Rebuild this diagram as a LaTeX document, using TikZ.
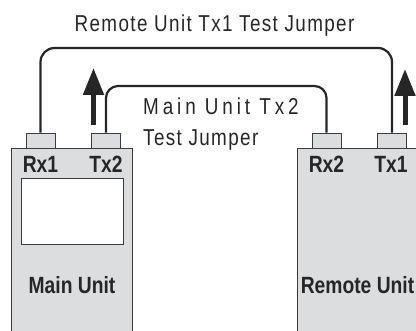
\documentclass[tikz,border=0pt]{standalone}
\usepackage{fontspec}
\setmainfont{Liberation Sans}[FakeStretch=0.82]
\newfontfamily\trackfont{Liberation Sans}[FakeStretch=0.82,LetterSpace=6]
\newfontfamily\widefont{Liberation Sans}[FakeStretch=0.82,LetterSpace=17]
\usetikzlibrary{arrows.meta}

\definecolor{unitgray}{HTML}{DCDDDF}
\definecolor{edgegray}{HTML}{3C3C3C}
\definecolor{inkgray}{HTML}{262626}

\tikzset{
    unitbox/.style={draw=edgegray, fill=unitgray, line width=0.9pt},
    screenbox/.style={draw=edgegray, fill=white, line width=0.9pt},
    portbox/.style={draw=edgegray, fill=unitgray, line width=0.9pt,
        minimum width=29pt, minimum height=15pt, inner sep=0pt},
    cable/.style={draw=inkgray, line width=2.2pt, rounded corners=14pt},
    bigarrow/.style={draw=inkgray, line width=5pt,
        -{Triangle[width=20pt,length=27pt]}},
    portlabel/.style={font=\fontsize{23.5}{26}\selectfont\bfseries,
        text=inkgray, inner sep=0pt, anchor=base},
    jumperlabel/.style={text=inkgray, inner sep=0pt, anchor=base west}
}

\begin{document}
\begin{tikzpicture}[x=1pt, y=-1pt]

        \useasboundingbox (0,0) rectangle (416,331);

        % the two units
        \draw[unitbox] (11,148) rectangle (132,345);
        \draw[screenbox] (21,178) rectangle (123,244);
        \draw[unitbox] (297,148) rectangle (416,345);

        % ports
        \node[portbox] (rxone) at (40.5,140.5) {};
        \node[portbox] (txtwo) at (106,140.5) {};
        \node[portbox] (rxtwo) at (326.5,140.5) {};
        \node[portbox] (txone) at (392,140.5) {};

        \node[portlabel] (rxonelab) at (40.5,173) {Rx1};
        \node[portlabel] (txtwolab) at (106,173) {Tx2};
        \node[portlabel] (rxtwolab) at (326.5,173) {Rx2};
        \node[portlabel] (txonelab) at (391,173) {Tx1};

        \node[portlabel] (mainlab) at (72,294) {Main Unit};
        \node[portlabel] (remotelab) at (357.5,294) {Remote Unit};

        % jumpers
        \coordinate (outertop) at (0,48);
        \coordinate (innertop) at (0,86);
        \draw[cable] (rxone.north) -- (rxone.north |- outertop) -| (txone.north);
        \draw[cable, rounded corners=12pt] (txtwo.north) -- (txtwo.north |- innertop) -| (rxtwo.north);

        % direction arrows
        \coordinate (arrowLfoot) at (93.5,125);
        \coordinate (arrowLtip) at (93.5,68);
        \coordinate (arrowRfoot) at (405,125);
        \coordinate (arrowRtip) at (405,69);
        \draw[bigarrow] (arrowLfoot) -- (arrowLtip);
        \draw[bigarrow] (arrowRfoot) -- (arrowRtip);

        % labels of the jumpers
        \node[text=inkgray, inner sep=0pt, anchor=base] (outerlab) at (214.5,32)
            {\fontsize{23}{26}\trackfont Remote Unit Tx1 Test Jumper};
        \node[jumperlabel] (innerlabA) at (143,115)
            {\fontsize{23}{26}\widefont Main Unit Tx2};
        \node[jumperlabel] (innerlabB) at (143,146)
            {\fontsize{23}{26}\trackfont Test Jumper};

    \end{tikzpicture}
\end{document}
